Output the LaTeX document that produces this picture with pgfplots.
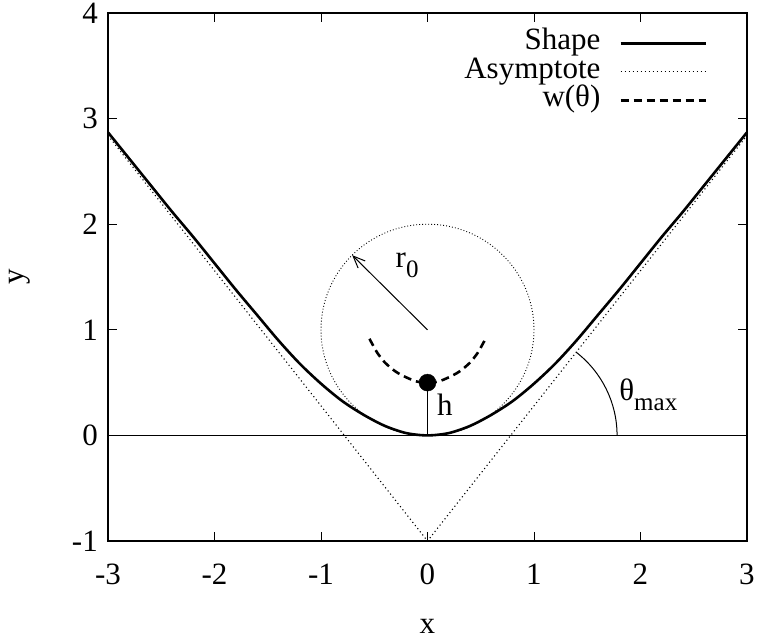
\documentclass[border=0pt]{standalone}
\usepackage{fontspec}
\setmainfont{Liberation Serif}
\usepackage{pgfplots}
\pgfplotsset{compat=1.18}
\usetikzlibrary{arrows.meta}

% gnuplot-like subscript: smaller and lowered
\newcommand\sub[1]{\raisebox{-10pt}{\fontsize{25}{25}\selectfont #1}}

\begin{document}
\fontsize{31}{36}\selectfont
\begin{tikzpicture}
\path[use as bounding box] (-108pt,-100pt) rectangle (650pt,541pt);
\begin{axis}[
  at={(0,0)}, anchor=south west,
  scale only axis, width=639pt, height=528pt,
  xmin=-3, xmax=3, ymin=-1, ymax=4,
  xtick={-3,-2,...,3}, ytick={-1,0,...,4},
  /pgf/number format/assume math mode=true,
  tick align=inside, tick pos=both,
  major tick length=9pt,
  axis line style={line width=1.6pt},
  every tick/.style={black, line width=0.9pt},
  xticklabel style={inner sep=0pt, yshift=-23pt},
  yticklabel style={inner sep=0pt, xshift=-10pt},
  xlabel={x}, ylabel={y},
  xlabel style={at={(axis description cs:0.5,-0.162)}, anchor=center},
  ylabel style={at={(axis description cs:-0.1377,0.5)}, anchor=center},
  clip=false,
  legend plot pos=right,
  legend cell align=right,
  legend image code/.code={\draw[#1] (0pt,0pt) -- (85pt,0pt);},
  legend style={at={(rel axis cs:0.9374,0.9697)}, anchor=north east,
    draw=none, fill=none, inner sep=0pt, outer sep=0pt,
    column sep=19pt, row sep=0pt,
    nodes={inner sep=0pt, text height=20.5pt, text depth=8pt}},
]
% shape
\addplot[black, line width=2.6pt, smooth, mark=none] coordinates {
  (-3,2.87) (-2.8,2.62) (-2.6,2.37) (-2.4,2.12) (-2.2,1.88) (-2.0,1.63)
  (-1.8,1.38) (-1.6,1.14) (-1.4,0.90) (-1.2,0.68) (-1.0,0.49) (-0.8,0.325)
  (-0.6,0.195) (-0.4,0.09) (-0.2,0.022) (0,0)
  (0.2,0.022) (0.4,0.09) (0.6,0.195) (0.8,0.325) (1.0,0.49) (1.2,0.68)
  (1.4,0.90) (1.6,1.14) (1.8,1.38) (2.0,1.63) (2.2,1.88) (2.4,2.12)
  (2.6,2.37) (2.8,2.62) (3,2.87)};
\addlegendentry{Shape}
% asymptote
\addplot[black, line width=1.1pt, dash pattern=on 1.1pt off 2.9pt, mark=none]
  coordinates {(-3,2.84) (0,-1) (3,2.84)};
\addlegendentry{Asymptote}
% w(theta)
\addplot[black, line width=2.6pt, dash pattern=on 8pt off 5pt, smooth, mark=none]
  coordinates {(-0.545,0.915) (-0.51,0.85) (-0.47,0.78) (-0.4,0.69) (-0.3,0.605)
  (-0.2,0.55) (-0.1,0.51) (0,0.5) (0.1,0.51) (0.2,0.55) (0.3,0.605)
  (0.4,0.69) (0.47,0.78) (0.51,0.85) (0.545,0.915)};
\addlegendentry{w(θ)}
% baseline and h
\addplot[forget plot, black, line width=1pt] coordinates {(-3,0) (3,0)};
\addplot[forget plot, black, line width=1pt] coordinates {(0,0) (0,0.5)};
\addplot[forget plot, only marks, mark=*, mark size=8.5pt, black] coordinates {(0,0.5)};
% circle r0, arrow and angle
\draw[black, line width=0.9pt, dash pattern=on 0.9pt off 2.1pt]
  (axis cs:0,1) ellipse [x radius=106.5pt, y radius=105.6pt];
\draw[black, line width=1pt, -{Straight Barb[length=12pt, width=10pt]}]
  (axis cs:0,1) -- (axis cs:-0.707,1.707);
\draw[black, line width=1pt] (axis cs:1.78,0)
  arc[start angle=0, end angle=52, x radius=106.5pt, y radius=105.6pt];
\node[anchor=base west, inner sep=0pt] at (axis cs:-0.30,1.59) {r\sub{0}};
\node[anchor=center, inner sep=0pt] at (axis cs:0.164,0.295) {h};
\node[anchor=base west, inner sep=0pt] at (axis cs:1.80,0.326) {θ\sub{max}};
\end{axis}
\end{tikzpicture}
\end{document}
